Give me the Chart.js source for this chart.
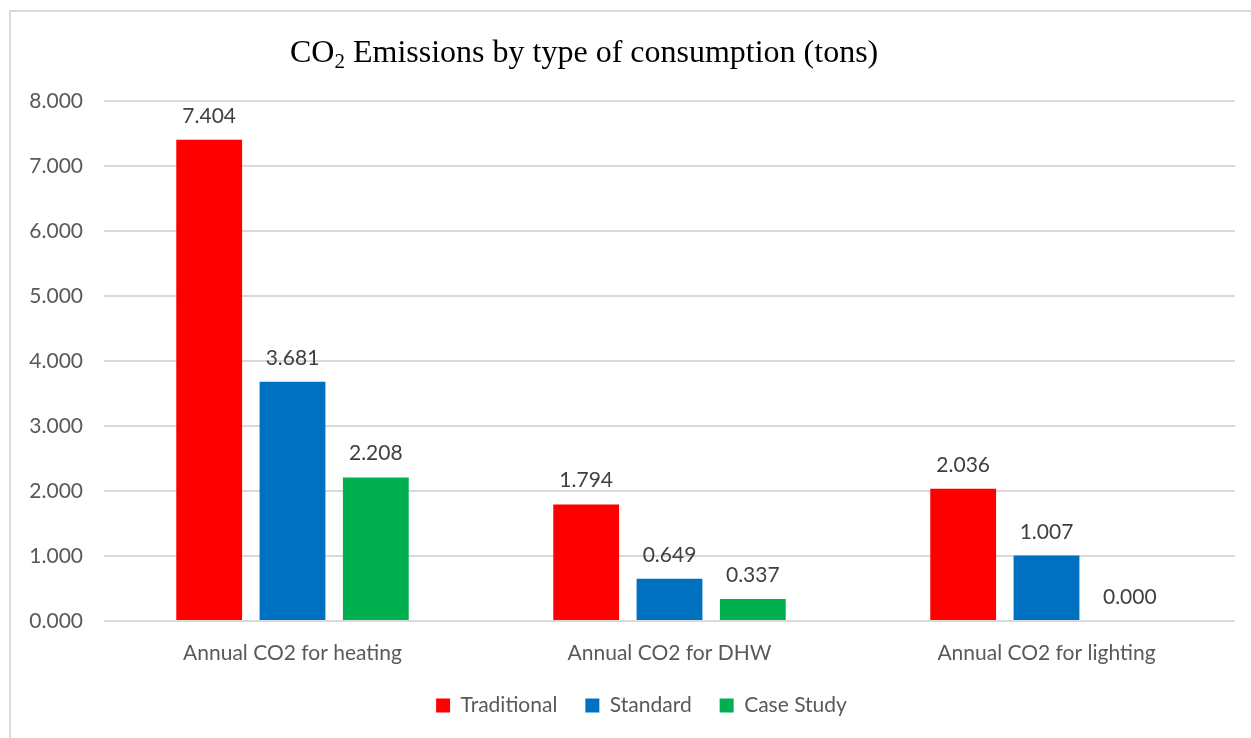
<!DOCTYPE html>
<html>
<head>
<meta charset="utf-8">
<script src="https://cdn.jsdelivr.net/npm/chart.js@4/dist/chart.umd.min.js"></script>
<style>
  html, body { margin: 0; padding: 0; background: #ffffff; }
  #wrap { width: 1251px; height: 738px; position: relative; }
</style>
</head>
<body>
<div id="wrap"><canvas id="chart" width="1251" height="738"></canvas></div>
<script>
const categories = ['Annual CO2 for heating', 'Annual CO2 for DHW', 'Annual CO2 for lighting'];
const traditional = [7.404, 1.794, 2.036];
const standard = [3.681, 0.649, 1.007];
const caseStudy = [2.208, 0.337, 0.000];
const seriesNames = ['Traditional', 'Standard', 'Case Study'];
const seriesColors = ['#FF0000', '#0070C0', '#00B050'];

const UI_FONT = 'Lato, "Open Sans", sans-serif';
const UI_SIZE = 21;

// Frame lines along the top and left edges of the chart box
const framePlugin = {
  id: 'frame',
  beforeDraw(chart) {
    const ctx = chart.ctx;
    ctx.save();
    ctx.fillStyle = '#ffffff';
    ctx.fillRect(0, 0, chart.width, chart.height);
    ctx.strokeStyle = '#d9d9d9';
    ctx.lineWidth = 2;
    ctx.beginPath();
    ctx.moveTo(10, chart.height);
    ctx.lineTo(10, 11);
    ctx.lineTo(chart.width, 11);
    ctx.stroke();
    ctx.restore();
  }
};

// Nudge the legend row so it sits centred under the whole figure
const legendShift = {
  id: 'legendShift',
  afterLayout(chart) {
    if (chart.legend) {
      chart.legend.left += 14;
      chart.legend.right += 14;
    }
  }
};

// Title with a subscript 2 in CO2
const titlePlugin = {
  id: 'subTitle',
  afterDraw(chart) {
    const ctx = chart.ctx;
    ctx.save();
    ctx.fillStyle = '#000000';
    ctx.textBaseline = 'alphabetic';
    ctx.textAlign = 'left';
    const serif = '"Liberation Serif", "Times New Roman", serif';
    const y = 62;
    let x = 290;
    ctx.font = '32px ' + serif;
    ctx.fillText('CO', x, y);
    x += ctx.measureText('CO').width;
    ctx.font = '21px ' + serif;
    ctx.fillText('2', x, y + 6);
    x += ctx.measureText('2').width;
    ctx.font = '32px ' + serif;
    ctx.fillText(' Emissions by type of consumption (tons)', x, y);
    ctx.restore();
  }
};

// Value labels above each bar
const valueLabels = {
  id: 'valueLabels',
  afterDatasetsDraw(chart) {
    const ctx = chart.ctx;
    ctx.save();
    ctx.font = UI_SIZE + 'px ' + UI_FONT;
    ctx.fillStyle = '#404040';
    ctx.textAlign = 'center';
    ctx.textBaseline = 'alphabetic';
    chart.data.datasets.forEach((ds, di) => {
      const meta = chart.getDatasetMeta(di);
      meta.data.forEach((bar, i) => {
        ctx.fillText(ds.data[i].toFixed(3), bar.x, bar.y - 17);
      });
    });
    ctx.restore();
  }
};

new Chart(document.getElementById('chart'), {
  type: 'bar',
  data: {
    labels: categories,
    datasets: [traditional, standard, caseStudy].map((d, i) => ({
      label: seriesNames[i],
      data: d,
      backgroundColor: seriesColors[i],
      borderWidth: 0,
      categoryPercentage: 0.663,
      barPercentage: 0.79
    }))
  },
  options: {
    responsive: false,
    animation: false,
    events: [],
    layout: { padding: { top: 101, left: 20, right: 16, bottom: 12 } },
    plugins: {
      title: { display: false },
      tooltip: { enabled: false },
      legend: {
        position: 'bottom',
        maxHeight: 60,
        labels: {
          color: '#595959',
          font: { family: UI_FONT, size: UI_SIZE },
          boxWidth: 14,
          boxHeight: 14,
          padding: 28
        }
      }
    },
    scales: {
      x: {
        afterFit(scale) { scale.height = 46; },
        grid: { display: false, drawTicks: false },
        border: { display: false },
        ticks: {
          color: '#595959',
          font: { family: UI_FONT, size: UI_SIZE },
          padding: 20
        }
      },
      y: {
        min: 0,
        max: 8,
        afterFit(scale) { scale.width = 84; },
        grid: { color: '#d9d9d9', lineWidth: 2, drawTicks: false },
        border: { display: false },
        ticks: {
          stepSize: 1,
          color: '#595959',
          font: { family: UI_FONT, size: UI_SIZE },
          padding: 21,
          callback: v => Number(v).toFixed(3)
        }
      }
    }
  },
  plugins: [framePlugin, legendShift, titlePlugin, valueLabels]
});
</script>
</body>
</html>
